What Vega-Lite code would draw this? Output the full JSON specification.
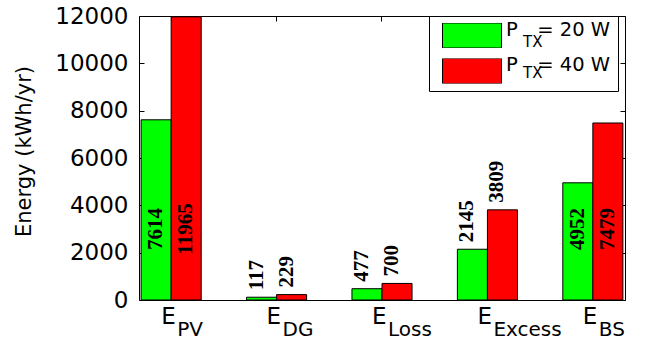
{
  "$schema": "https://vega.github.io/schema/vega-lite/v6.json",
  "width": 486,
  "height": 284,
  "autosize": {"type": "none"},
  "padding": {"left": 139, "top": 16, "right": 20, "bottom": 39},
  "background": "white",
  "config": {
    "view": {"stroke": "black", "strokeWidth": 1},
    "axis": {"grid": false, "domain": false, "labelColor": "black", "tickColor": "black", "titleColor": "black"}
  },
  "data": {
    "values": [
      {"term": "PV", "series": "20 W", "energy": 7614},
      {"term": "PV", "series": "40 W", "energy": 11965},
      {"term": "DG", "series": "20 W", "energy": 117},
      {"term": "DG", "series": "40 W", "energy": 229},
      {"term": "Loss", "series": "20 W", "energy": 477},
      {"term": "Loss", "series": "40 W", "energy": 700},
      {"term": "Excess", "series": "20 W", "energy": 2145},
      {"term": "Excess", "series": "40 W", "energy": 3809},
      {"term": "BS", "series": "20 W", "energy": 4952},
      {"term": "BS", "series": "40 W", "energy": 7479}
    ]
  },
  "resolve": {"axis": {"x": "independent", "y": "independent"}},
  "layer": [
    {
      "mark": {"type": "bar", "stroke": "black", "strokeWidth": 1},
      "encoding": {
        "x": {
          "field": "term", "type": "nominal",
          "scale": {"domain": ["PV", "DG", "Loss", "Excess", "BS"], "paddingInner": 0.43, "paddingOuter": 0.02},
          "axis": {
            "orient": "bottom", "title": null, "labelExpr": "'E'", "labelAngle": 0,
            "labelAlign": "left", "labelOffset": -10, "labelBaseline": "alphabetic",
            "labelPadding": 23, "labelFont": "DejaVu Sans", "labelFontSize": 23,
            "ticks": false, "tickSize": 0
          }
        },
        "xOffset": {
          "field": "series", "type": "nominal",
          "scale": {"domain": ["20 W", "40 W"], "paddingInner": 0, "paddingOuter": 0}
        },
        "y": {
          "field": "energy", "type": "quantitative",
          "scale": {"domain": [0, 12000], "nice": false},
          "axis": {
            "orient": "left", "title": "Energy (kWh/yr)", "format": "d",
            "values": [0, 2000, 4000, 6000, 8000, 10000, 12000],
            "tickSize": -5, "labelPadding": 16,
            "labelFont": "DejaVu Sans", "labelFontSize": 23,
            "titleFont": "DejaVu Sans", "titleFontSize": 21, "titleFontWeight": "normal",
            "titleAngle": 270, "titleAlign": "center", "titleBaseline": "alphabetic",
            "titleX": -109, "titleY": 135
          }
        },
        "color": {
          "field": "series", "type": "nominal",
          "scale": {"range": ["#00ff00", "#ff0000"]},
          "legend": {
            "title": null, "orient": "none", "legendX": 290, "legendY": 0,
            "padding": 7, "symbolOffset": 6, "strokeColor": "black", "fillColor": "white",
            "symbolType": "M-1,-0.424H1V0.424H-1Z", "symbolSize": 3481, "clipHeight": 25,
            "symbolStrokeColor": "black", "symbolStrokeWidth": 1, "symbolOpacity": 1,
            "rowPadding": 6.5, "labelOffset": 4, "labelBaseline": "alphabetic",
            "labelFont": "DejaVu Sans", "labelFontSize": 19.5, "labelColor": "black",
            "labelExpr": "'P\u2002\u2002= ' + datum.label"
          }
        }
      }
    },
    {
      "transform": [{"filter": "datum.term !== 'PV' && datum.term !== 'BS'"}],
      "mark": {
        "type": "text", "angle": 270, "align": "left", "baseline": "middle",
        "dx": 7, "dy": -5, "font": "Liberation Serif", "fontWeight": "bold", "fontSize": 21, "color": "black"
      },
      "encoding": {
        "x": {
          "field": "term", "type": "nominal",
          "scale": {"domain": ["PV", "DG", "Loss", "Excess", "BS"]},
          "axis": {
            "orient": "bottom", "title": null, "labelAngle": 0,
            "labelAlign": "left", "labelOffset": 6, "labelBaseline": "alphabetic",
            "labelPadding": 35, "labelFont": "DejaVu Sans", "labelFontSize": 20,
            "ticks": false, "tickSize": 0
          }
        },
        "xOffset": {"field": "series", "type": "nominal", "scale": {"domain": ["20 W", "40 W"]}},
        "y": {
          "field": "energy", "type": "quantitative",
          "axis": {
            "orient": "right", "title": null, "labels": false,
            "values": [0, 2000, 4000, 6000, 8000, 10000, 12000], "tickSize": -5
          }
        },
        "text": {"field": "energy", "type": "quantitative", "format": "d"},
        "opacity": {
          "field": "series", "type": "nominal",
          "scale": {"domain": ["20 W", "40 W"], "range": [1, 1]},
          "legend": {
            "title": null, "orient": "none", "legendX": 290, "legendY": 11,
            "padding": 7, "symbolOffset": 6, "strokeColor": "transparent", "fillColor": "transparent",
            "symbolType": "M0,0", "symbolSize": 3481, "clipHeight": 25,
            "symbolFillColor": "transparent", "symbolStrokeColor": "transparent", "symbolStrokeWidth": 0,
            "rowPadding": 6.5, "labelOffset": 22, "labelBaseline": "alphabetic",
            "labelFont": "DejaVu Sans", "labelFontSize": 15, "labelColor": "black",
            "labelExpr": "'TX'"
          }
        }
      }
    },
    {
      "transform": [{"filter": "datum.term === 'PV' || datum.term === 'BS'"}],
      "mark": {
        "type": "text", "angle": 270, "align": "center", "baseline": "middle",
        "font": "Liberation Serif", "fontWeight": "bold", "fontSize": 21, "color": "black"
      },
      "encoding": {
        "x": {
          "field": "term", "type": "nominal",
          "scale": {"domain": ["PV", "DG", "Loss", "Excess", "BS"]},
          "axis": {"orient": "top", "title": null, "labels": false, "tickSize": -5}
        },
        "xOffset": {"field": "series", "type": "nominal", "scale": {"domain": ["20 W", "40 W"]}},
        "y": {"datum": 3000, "type": "quantitative", "axis": null},
        "text": {"field": "energy", "type": "quantitative", "format": "d"}
      }
    }
  ]
}
